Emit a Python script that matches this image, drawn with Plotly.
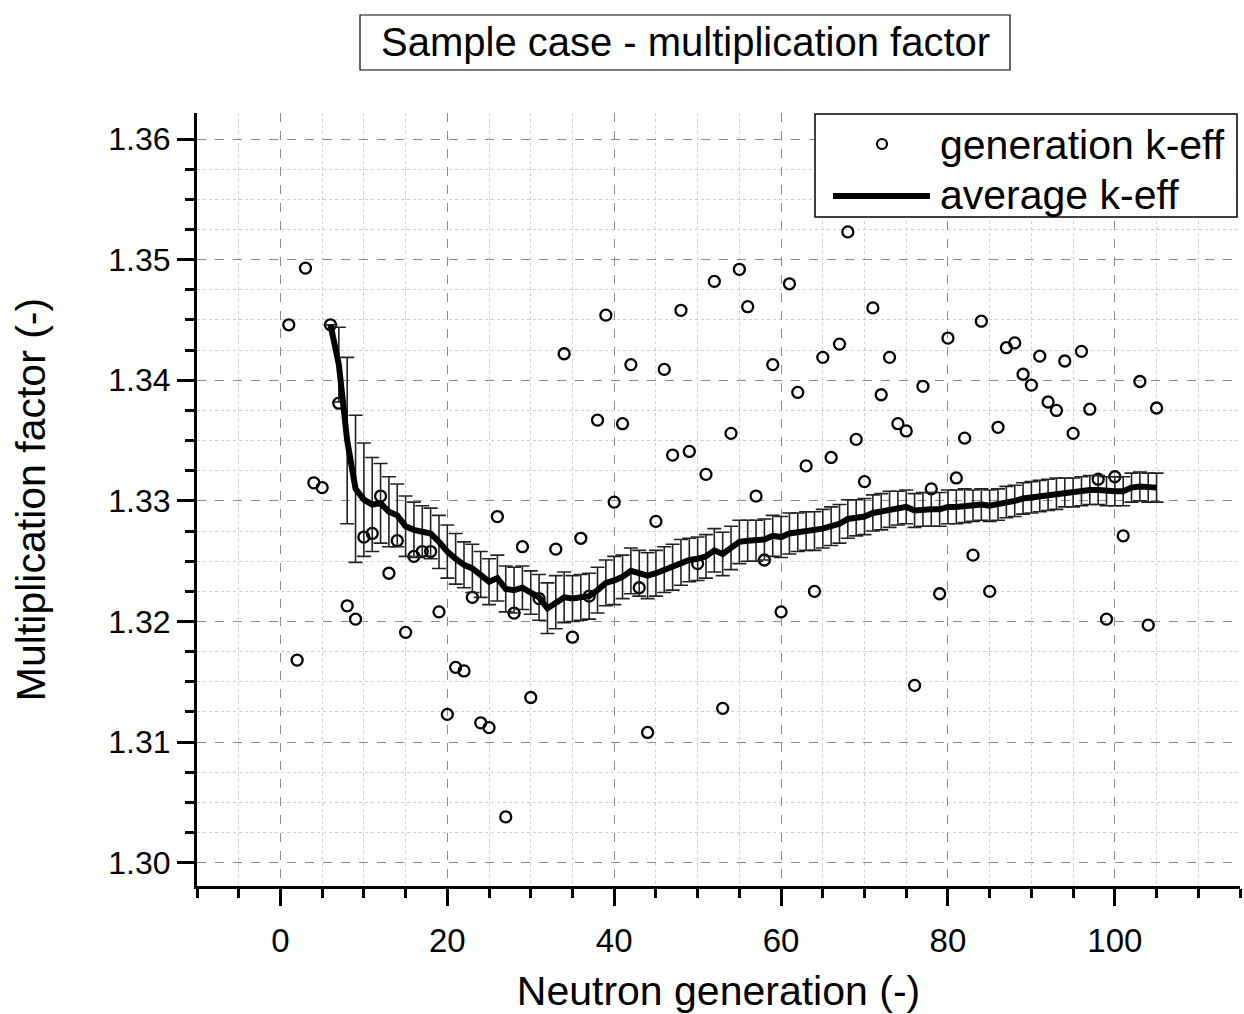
import plotly.graph_objects as go

# ---- data ----
gen_points = list(range(1, 106))
keff_points = [
    1.3446, 1.3168, 1.3493, 1.3315, 1.3311, 1.3446, 1.3381, 1.3213, 1.3202, 1.3270,  # 1-10
    1.3273, 1.3304, 1.3240, 1.3267, 1.3191, 1.3254, 1.3258, 1.3258, 1.3208, 1.3123,  # 11-20
    1.3162, 1.3159, 1.3220, 1.3116, 1.3112, 1.3287, 1.3038, 1.3207, 1.3262, 1.3137,  # 21-30
    1.3219, None,   1.3260, 1.3422, 1.3187, 1.3269, 1.3221, 1.3367, 1.3454, 1.3299,  # 31-40
    1.3364, 1.3413, 1.3228, 1.3108, 1.3283, 1.3409, 1.3338, 1.3458, 1.3341, 1.3248,  # 41-50
    1.3322, 1.3482, 1.3128, 1.3356, 1.3492, 1.3461, 1.3304, 1.3251, 1.3413, 1.3208,  # 51-60
    1.3480, 1.3390, 1.3329, 1.3225, 1.3419, 1.3336, 1.3430, 1.3523, 1.3351, 1.3316,  # 61-70
    1.3460, 1.3388, 1.3419, 1.3364, 1.3358, 1.3147, 1.3395, 1.3310, 1.3223, 1.3435,  # 71-80
    1.3319, 1.3352, 1.3255, 1.3449, 1.3225, 1.3361, 1.3427, 1.3431, 1.3405, 1.3396,  # 81-90
    1.3420, 1.3382, 1.3375, 1.3416, 1.3356, 1.3424, 1.3376, 1.3318, 1.3202, 1.3320,  # 91-100
    1.3271, None,   1.3399, 1.3197, 1.3377,                                          # 101-105
]

gen_avg = list(range(6, 106))
keff_avg = [
    1.3446, 1.3413, 1.3350, 1.3310, 1.3301, 1.3297, 1.3298, 1.3291, 1.3288, 1.3279,  # 6-15
    1.3276, 1.3275, 1.3273, 1.3266, 1.3258, 1.3252, 1.3247, 1.3244, 1.3239, 1.3233,  # 16-25
    1.3236, 1.3227, 1.3226, 1.3228, 1.3224, 1.3220, 1.3211, 1.3216, 1.3220, 1.3219,  # 26-35
    1.3220, 1.3221, 1.3226, 1.3232, 1.3234, 1.3237, 1.3242, 1.3240, 1.3238, 1.3240,  # 36-45
    1.3243, 1.3245, 1.3249, 1.3251, 1.3252, 1.3254, 1.3259, 1.3256, 1.3261, 1.3266,  # 46-55
    1.3267, 1.3267, 1.3268, 1.3271, 1.3270, 1.3273, 1.3274, 1.3275, 1.3275, 1.3277,  # 56-65
    1.3279, 1.3281, 1.3285, 1.3286, 1.3287, 1.3290, 1.3291, 1.3293, 1.3294, 1.3295,  # 66-75
    1.3292, 1.3293, 1.3293, 1.3293, 1.3295, 1.3295, 1.3296, 1.3296, 1.3297, 1.3296,  # 76-85
    1.3297, 1.3299, 1.3300, 1.3302, 1.3303, 1.3304, 1.3305, 1.3306, 1.3307, 1.3307,  # 86-95
    1.3308, 1.3309, 1.3309, 1.3308, 1.3308, 1.3308, 1.3311, 1.3312, 1.3311, 1.3311,  # 96-105
]
keff_err = [
    0.0000, 0.0031, 0.0069, 0.0061, 0.0047, 0.0039, 0.0033, 0.0029, 0.0026, 0.0025,  # 6-15
    0.0023, 0.0021, 0.0021, 0.0022, 0.0022, 0.0021, 0.0019, 0.0020, 0.0019, 0.0019,  # 16-25
    0.0019, 0.0019, 0.0019, 0.0018, 0.0018, 0.0019, 0.0021, 0.0022, 0.0021, 0.0019,  # 26-35
    0.0019, 0.0019, 0.0019, 0.0019, 0.0020, 0.0018, 0.0019, 0.0019, 0.0019, 0.0019,  # 36-45
    0.0019, 0.0019, 0.0019, 0.0018, 0.0018, 0.0018, 0.0018, 0.0018, 0.0018, 0.0018,  # 46-55
    0.0017, 0.0017, 0.0017, 0.0017, 0.0017, 0.0017, 0.0016, 0.0016, 0.0016, 0.0016,  # 56-65
    0.0016, 0.0016, 0.0016, 0.0015, 0.0015, 0.0015, 0.0015, 0.0015, 0.0014, 0.0014,  # 66-75
    0.0014, 0.0014, 0.0014, 0.0014, 0.0014, 0.0014, 0.0014, 0.0013, 0.0013, 0.0013,  # 76-85
    0.0013, 0.0013, 0.0013, 0.0013, 0.0013, 0.0013, 0.0013, 0.0013, 0.0012, 0.0012,  # 86-95
    0.0012, 0.0012, 0.0012, 0.0012, 0.0012, 0.0012, 0.0012, 0.0012, 0.0012, 0.0012,  # 96-105
]

title_text = "Sample case - multiplication factor"
x_title = "Neutron generation (-)"
y_title = "Multiplication factor (-)"
legend_names = ["generation k-eff", "average k-eff"]

FONT = "Liberation Sans, Arial, sans-serif"

fig = go.Figure()

fig.add_trace(go.Scatter(
    x=gen_points, y=keff_points, mode="markers", name=legend_names[0],
    marker=dict(symbol="circle-open", size=11, color="black", line=dict(width=2.3, color="black")),
    showlegend=False,
))

fig.add_trace(go.Scatter(
    x=gen_avg, y=keff_avg, mode="lines", name=legend_names[1],
    line=dict(color="black", width=6),
    error_y=dict(type="data", array=keff_err, visible=True, color="#222222", thickness=1.6, width=7),
    showlegend=False,
))

grid_major = "#8c8c8c"
grid_minor = "#cfcfcf"

fig.update_layout(
    width=1244, height=1014,
    margin=dict(l=197, r=4, t=113, b=128),
    paper_bgcolor="white", plot_bgcolor="white",
    font=dict(family=FONT, color="black"),
    showlegend=False,
    xaxis=dict(
        range=[-10, 115], tick0=0, dtick=20, automargin=False,
        showline=True, linecolor="black", linewidth=3, mirror=False,
        ticks="outside", ticklen=17, tickwidth=3, tickcolor="black",
        tickfont=dict(size=33, family=FONT), ticklabelstandoff=6,
        showgrid=True, gridcolor=grid_major, griddash="dash", gridwidth=1.2,
        zeroline=False,
        minor=dict(dtick=5, tick0=0, ticks="outside", ticklen=9, tickwidth=3, tickcolor="black",
                   showgrid=True, gridcolor=grid_minor, griddash="dot", gridwidth=1),
        title=dict(text=x_title, font=dict(size=41, family=FONT), standoff=26),
    ),
    yaxis=dict(
        range=[1.29807, 1.36216], tick0=1.30, dtick=0.01, tickformat=".2f", automargin=False,
        showline=True, linecolor="black", linewidth=3, mirror=False,
        ticks="outside", ticklen=17, tickwidth=3, tickcolor="black",
        tickfont=dict(size=32, family=FONT),
        showgrid=True, gridcolor=grid_major, griddash="dash", gridwidth=1.2,
        zeroline=False,
        minor=dict(dtick=0.0025, tick0=1.30, ticks="outside", ticklen=9, tickwidth=3, tickcolor="black",
                   showgrid=True, gridcolor=grid_minor, griddash="dot", gridwidth=1),
        title=dict(text=y_title, font=dict(size=41, family=FONT), standoff=50),
    ),
)

# ---- helpers: page pixels -> paper coordinates ----
PL, PT, PW, PH = 197, 113, 1043, 773
def px(xp):
    return (xp - PL) / PW
def py(yp):
    return (PT + PH - yp) / PH

# title box
fig.add_shape(type="rect", xref="paper", yref="paper",
              x0=px(360), x1=px(1010), y0=py(70), y1=py(15),
              line=dict(color="black", width=1.2), fillcolor="white", layer="above")
fig.add_annotation(text=title_text, xref="paper", yref="paper", x=px(685), y=py(42),
                   xanchor="center", yanchor="middle", showarrow=False,
                   font=dict(size=40, family=FONT, color="black"))

# legend box
fig.add_shape(type="rect", xref="paper", yref="paper",
              x0=px(815), x1=px(1237), y0=py(217), y1=py(114),
              line=dict(color="black", width=1.5), fillcolor="white", layer="above")
# legend symbol: open circle
fig.add_shape(type="circle", xref="paper", yref="paper",
              xsizemode="pixel", ysizemode="pixel", xanchor=px(882), yanchor=py(144),
              x0=-5, x1=5, y0=-5, y1=5,
              line=dict(color="black", width=2.2), fillcolor="white", layer="above")
# legend symbol: thick line
fig.add_shape(type="line", xref="paper", yref="paper",
              x0=px(833), x1=px(930), y0=py(196), y1=py(196),
              line=dict(color="black", width=6), layer="above")
fig.add_annotation(text=legend_names[0], xref="paper", yref="paper", x=px(938), y=py(145),
                   xanchor="left", yanchor="middle", showarrow=False,
                   font=dict(size=41, family=FONT, color="black"))
fig.add_annotation(text=legend_names[1], xref="paper", yref="paper", x=px(938), y=py(195),
                   xanchor="left", yanchor="middle", showarrow=False,
                   font=dict(size=41, family=FONT, color="black"))

fig.write_html("out.html", config={"displayModeBar": False},
               post_script="document.body.style.margin='0';")
